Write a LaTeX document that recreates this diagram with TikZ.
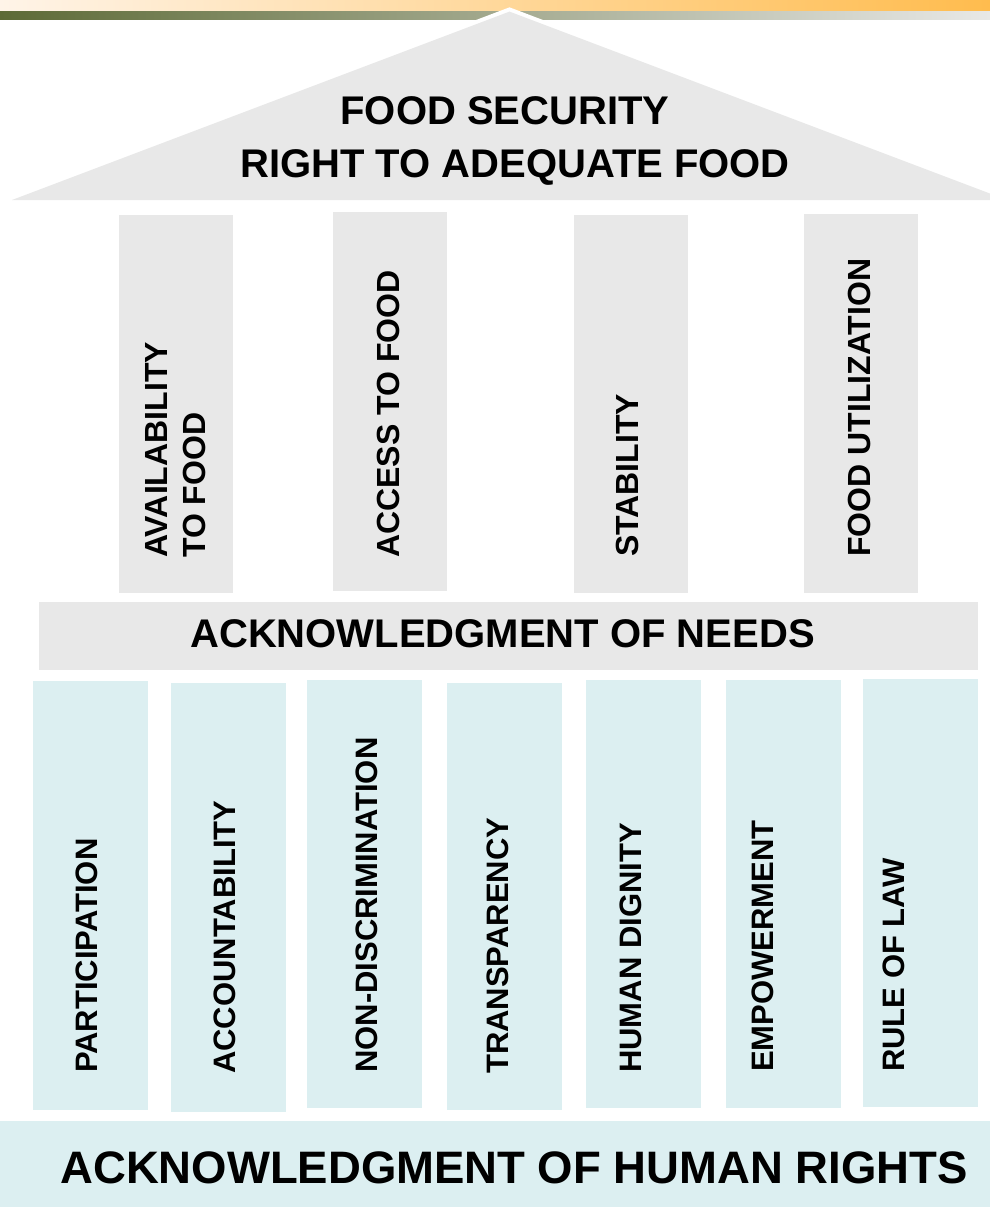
\documentclass[tikz,border=0pt]{standalone}
\usepackage{fontspec}
\setmainfont{Liberation Sans}
\definecolor{roofgrey}{HTML}{E8E8E8}
\definecolor{rightscyan}{HTML}{DCEFF1}
\definecolor{orL}{HTML}{FFF4E8}
\definecolor{orM}{HTML}{FFDAA8}
\definecolor{orR}{HTML}{FFBC4E}
\definecolor{olL}{HTML}{5D6A36}
\definecolor{olM}{HTML}{9CA08C}
\definecolor{olR}{HTML}{E8E8E6}
\begin{document}
\begin{tikzpicture}[x=1pt,y=-1pt,
  gbox/.style={fill=roofgrey},
  cbox/.style={fill=rightscyan},
  vlabel/.style={rotate=90,anchor=west,inner sep=0pt,align=left,
    font=\fontsize{32}{38}\selectfont\bfseries},
  lvlabel/.style={vlabel,font=\fontsize{31}{37}\selectfont\bfseries},
  hlabel/.style={inner sep=0pt,anchor=base,font=\fontsize{40}{48}\selectfont\bfseries},
  biglabel/.style={hlabel,font=\fontsize{45.5}{54}\selectfont\bfseries}]
\useasboundingbox (0,0) rectangle (990,1207);
% top bars
\shade[left color=orL, middle color=orM, right color=orR] (0,0) rectangle (990,12);
\shade[left color=olL, middle color=olM, right color=olR] (0,12) rectangle (990,20);
% roof
\coordinate (rl) at (12,200);
\coordinate (rt) at (509.5,11.6);
\coordinate (rr) at (1007,200);
\draw[white,line width=8pt,line join=miter] (rl) -- (rt) -- (rr);
\fill[roofgrey] (rl) -- (rt) -- (rr) -- cycle;
\node[hlabel] (fs) at (505,124) {FOOD SECURITY};
\node[hlabel] (rf) at (515,177) {RIGHT TO ADEQUATE FOOD};
% upper pillars
\fill[gbox] (119,215) rectangle (233,593);
\fill[gbox] (333,212) rectangle (447,591);
\fill[gbox] (574,215) rectangle (688,593);
\fill[gbox] (804,214) rectangle (918,593);
\node[vlabel] (p1) at (176,558) {AVAILABILITY\\TO FOOD};
\node[vlabel] (p2) at (388,558) {ACCESS TO FOOD};
\node[vlabel] (p3) at (627.5,557) {STABILITY};
\node[vlabel] (p4) at (859,557) {FOOD UTILIZATION};
% needs bar
\fill[gbox] (39,602) rectangle (978,670);
\node[hlabel] (needs) at (502.5,647) {ACKNOWLEDGMENT OF NEEDS};
% lower pillars
\fill[cbox] (33,681) rectangle (148,1110);
\fill[cbox] (171,683) rectangle (286,1112);
\fill[cbox] (307,680) rectangle (422,1108);
\fill[cbox] (447,683) rectangle (562,1110);
\fill[cbox] (586,680) rectangle (701,1108);
\fill[cbox] (726,680) rectangle (841,1108);
\fill[cbox] (863,679) rectangle (978,1107);
\node[lvlabel] (q1) at (87,1073) {PARTICIPATION};
\node[lvlabel] (q2) at (225,1074) {ACCOUNTABILITY};
\node[lvlabel] (q3) at (367,1073) {NON-DISCRIMINATION};
\node[lvlabel] (q4) at (498,1074) {TRANSPARENCY};
\node[lvlabel] (q5) at (630.5,1073) {HUMAN DIGNITY};
\node[lvlabel] (q6) at (763,1072) {EMPOWERMENT};
\node[lvlabel] (q7) at (894,1072) {RULE OF LAW};
% base bar
\fill[cbox] (0,1121) rectangle (990,1207);
\node[biglabel] (hr) at (514,1183) {ACKNOWLEDGMENT OF HUMAN RIGHTS};
\end{tikzpicture}
\end{document}
